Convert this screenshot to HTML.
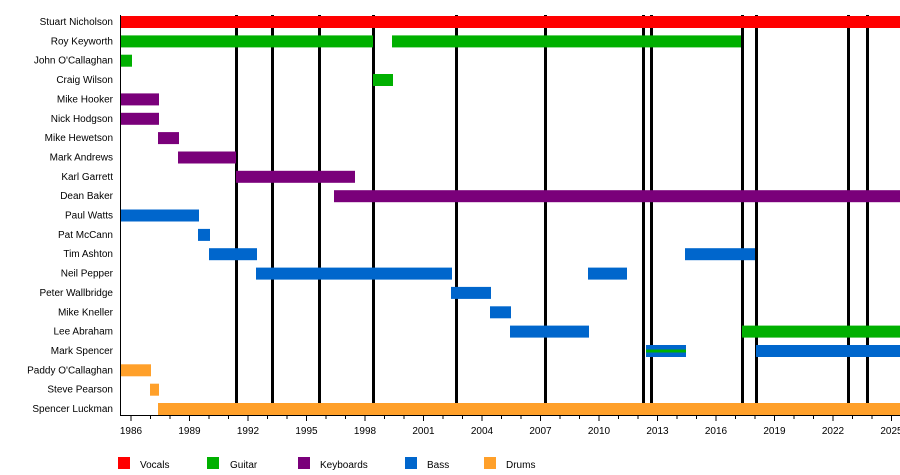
<!DOCTYPE html>
<html><head><meta charset="utf-8"><style>
body{margin:0;background:#fff}
svg{display:block;font-family:"Liberation Sans",Arial,sans-serif;font-size:10px}
</style></head><body>
<svg width="900" height="475" viewBox="0 0 900 475" xmlns="http://www.w3.org/2000/svg">
<g fill="#000">
<rect x="235" y="15" width="3" height="390"/>
<rect x="271" y="15" width="3" height="390"/>
<rect x="318" y="15" width="3" height="390"/>
<rect x="372" y="15" width="3" height="390"/>
<rect x="455" y="15" width="3" height="390"/>
<rect x="544" y="15" width="3" height="390"/>
<rect x="642" y="15" width="3" height="390"/>
<rect x="650" y="15" width="3" height="390"/>
<rect x="741" y="15" width="3" height="390"/>
<rect x="755" y="15" width="3" height="390"/>
<rect x="847" y="15" width="3" height="390"/>
<rect x="866" y="15" width="3" height="390"/>
</g>
<g>
<rect x="120" y="16" width="780" height="12" fill="#ff0000"/>
<rect x="120" y="35.4" width="253" height="12" fill="#00b000"/>
<rect x="392" y="35.4" width="349" height="12" fill="#00b000"/>
<rect x="120" y="54.7" width="12" height="12" fill="#00b000"/>
<rect x="373" y="74" width="20" height="12" fill="#00b000"/>
<rect x="120" y="93.4" width="39" height="12" fill="#7a007a"/>
<rect x="120" y="112.8" width="39" height="12" fill="#7a007a"/>
<rect x="158" y="132.1" width="21" height="12" fill="#7a007a"/>
<rect x="178" y="151.5" width="58" height="12" fill="#7a007a"/>
<rect x="236" y="170.8" width="119" height="12" fill="#7a007a"/>
<rect x="334" y="190.2" width="566" height="12" fill="#7a007a"/>
<rect x="120" y="209.5" width="79" height="12" fill="#0066cc"/>
<rect x="198" y="228.9" width="12" height="12" fill="#0066cc"/>
<rect x="209" y="248.2" width="48" height="12" fill="#0066cc"/>
<rect x="685" y="248.2" width="70" height="12" fill="#0066cc"/>
<rect x="256" y="267.6" width="196" height="12" fill="#0066cc"/>
<rect x="588" y="267.6" width="39" height="12" fill="#0066cc"/>
<rect x="451" y="286.9" width="40" height="12" fill="#0066cc"/>
<rect x="490" y="306.3" width="21" height="12" fill="#0066cc"/>
<rect x="510" y="325.6" width="79" height="12" fill="#0066cc"/>
<rect x="742" y="325.6" width="158" height="12" fill="#00b000"/>
<rect x="646" y="345" width="40" height="12" fill="#0066cc"/>
<rect x="646" y="349.5" width="40" height="3" fill="#00b000"/>
<rect x="756" y="345" width="144" height="12" fill="#0066cc"/>
<rect x="120" y="364.3" width="31" height="12" fill="#ffa02a"/>
<rect x="150" y="383.7" width="9" height="12" fill="#ffa02a"/>
<rect x="158" y="403" width="742" height="12" fill="#ffa02a"/>
</g>
<rect x="120" y="15" width="1" height="401" fill="#000"/>
<rect x="120" y="415" width="780" height="1" fill="#000"/>
<g stroke="#000" stroke-width="1">
<path d="M131 416v5M150.5 416v3M170 416v3M189.5 416v5M209 416v3M228.5 416v3M248 416v5M267.5 416v3M287 416v3M306.5 416v5M326 416v3M345.5 416v3M365 416v5M384.5 416v3M404 416v3M423.5 416v5M443 416v3M462.5 416v3M482 416v5M501.5 416v3M521 416v3M540.5 416v5M560 416v3M579.5 416v3M599 416v5M618.5 416v3M638 416v3M657.5 416v5M677 416v3M696.5 416v3M716 416v5M735.5 416v3M755 416v3M774.5 416v5M794 416v3M813.5 416v3M833 416v5M852.5 416v3M872 416v3M891.5 416v5"/>
</g>
<g text-anchor="end" fill="#000">
<text x="113" y="25">Stuart Nicholson</text>
<text x="113" y="44.4">Roy Keyworth</text>
<text x="113" y="63.7">John O'Callaghan</text>
<text x="113" y="83">Craig Wilson</text>
<text x="113" y="102.4">Mike Hooker</text>
<text x="113" y="121.8">Nick Hodgson</text>
<text x="113" y="141.1">Mike Hewetson</text>
<text x="113" y="160.5">Mark Andrews</text>
<text x="113" y="179.8">Karl Garrett</text>
<text x="113" y="199.2">Dean Baker</text>
<text x="113" y="218.5">Paul Watts</text>
<text x="113" y="237.9">Pat McCann</text>
<text x="113" y="257.2">Tim Ashton</text>
<text x="113" y="276.6">Neil Pepper</text>
<text x="113" y="295.9">Peter Wallbridge</text>
<text x="113" y="315.3">Mike Kneller</text>
<text x="113" y="334.6">Lee Abraham</text>
<text x="113" y="354">Mark Spencer</text>
<text x="113" y="373.3">Paddy O'Callaghan</text>
<text x="113" y="392.7">Steve Pearson</text>
<text x="113" y="412">Spencer Luckman</text>
</g>
<g text-anchor="middle" fill="#000">
<text x="131" y="434">1986</text>
<text x="189.5" y="434">1989</text>
<text x="248" y="434">1992</text>
<text x="306.5" y="434">1995</text>
<text x="365" y="434">1998</text>
<text x="423.5" y="434">2001</text>
<text x="482" y="434">2004</text>
<text x="540.5" y="434">2007</text>
<text x="599" y="434">2010</text>
<text x="657.5" y="434">2013</text>
<text x="716" y="434">2016</text>
<text x="774.5" y="434">2019</text>
<text x="833" y="434">2022</text>
<text x="891.5" y="434">2025</text>
</g>
<g>
<rect x="118" y="457" width="12" height="12" fill="#ff0000"/><text x="140" y="468">Vocals</text>
<rect x="207" y="457" width="12" height="12" fill="#00b000"/><text x="230" y="468">Guitar</text>
<rect x="298" y="457" width="12" height="12" fill="#7a007a"/><text x="320" y="468">Keyboards</text>
<rect x="405" y="457" width="12" height="12" fill="#0066cc"/><text x="427" y="468">Bass</text>
<rect x="484" y="457" width="12" height="12" fill="#ffa02a"/><text x="506" y="468">Drums</text>
</g>
</svg>
</body></html>
